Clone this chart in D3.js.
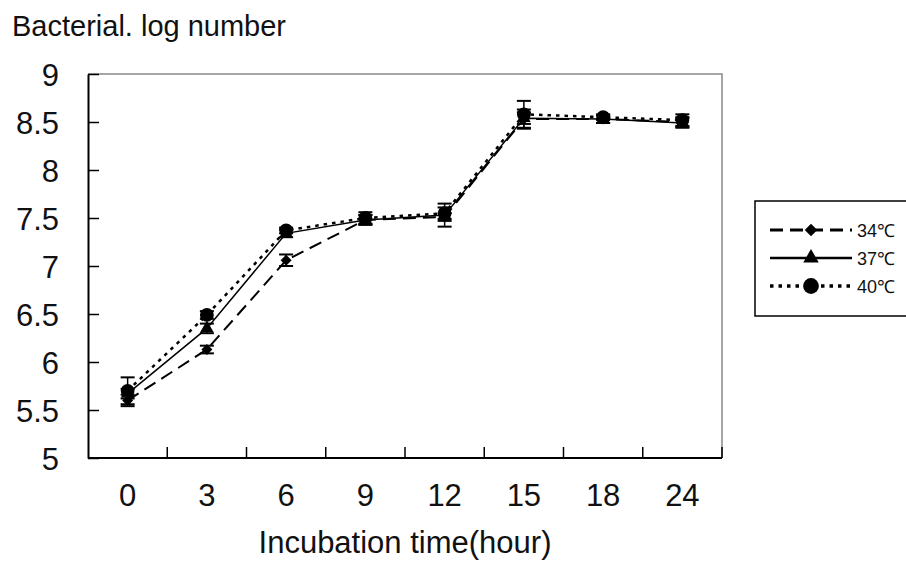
<!DOCTYPE html>
<html>
<head>
<meta charset="utf-8">
<script src="https://cdn.jsdelivr.net/npm/d3@7"></script>
<style>
  body { margin: 0; background: #fff; }
  text { font-family: "Liberation Sans", Arial, sans-serif; fill: #111; }
</style>
</head>
<body>
<div class="plot"></div>
<script>
// data
const hours = ["0", "3", "6", "9", "12", "15", "18", "24"];
const yTicks = [5, 5.5, 6, 6.5, 7, 7.5, 8, 8.5, 9];
const seriesNames = ["34℃", "37℃", "40℃"];
const t34 = [5.60, 6.13, 7.06, 7.48, 7.51, 8.53, 8.53, 8.50];
const t37 = [5.67, 6.35, 7.34, 7.48, 7.53, 8.54, 8.53, 8.49];
const t40 = [5.70, 6.49, 7.37, 7.50, 7.55, 8.58, 8.55, 8.52];
const e34 = [0.06, 0.04, 0.06, 0.05, 0.04, 0.10, 0.04, 0.05];
const e37 = [0.05, 0.05, 0.04, 0.05, 0.12, 0.06, 0.04, 0.05];
const e40 = [0.14, 0.04, 0.03, 0.06, 0.06, 0.14, 0.03, 0.06];

const width = 906, height = 564;
const margin = {top: 74, right: 184, bottom: 106, left: 88};
const w = width - margin.left - margin.right;
const h = height - margin.top - margin.bottom;

const svg = d3.select(".plot")
  .append("svg")
    .attr("width", width)
    .attr("height", height);

const g = svg.append("g")
  .attr("transform", "translate(" + margin.left + "," + margin.top + ")");

const x = d3.scaleBand().domain(hours).range([0, w]);
const y = d3.scaleLinear().domain([5, 9]).range([h, 0]);

// gray frame on top/right
g.append("path")
  .attr("d", `M0,0H${w}V${h}`)
  .attr("fill", "none")
  .attr("stroke", "#888")
  .attr("stroke-width", 1.5);

// y axis, ticks pointing inward
const yAxis = g.append("g")
  .call(d3.axisLeft(y).tickValues(yTicks).tickSizeInner(-11).tickSizeOuter(0).tickPadding(0)
    .tickFormat(d => d));
yAxis.select(".domain").attr("stroke", "#000").attr("stroke-width", 2);
yAxis.selectAll(".tick line").attr("stroke", "#000").attr("stroke-width", 1.5);
yAxis.selectAll(".tick text")
  .attr("x", -29)
  .attr("dy", "0.36em")
  .style("font-size", "31px")
  .style("font-family", "Liberation Sans, Arial, sans-serif")
  .attr("fill", "#111");

// x axis, ticks at category boundaries pointing up
const xAxis = g.append("g")
  .attr("transform", "translate(0," + h + ")");
xAxis.append("line")
  .attr("x1", 0).attr("x2", w)
  .attr("stroke", "#000").attr("stroke-width", 2);
xAxis.selectAll(".xtick")
  .data(hours.slice(1).concat(["end"]))
  .enter().append("line")
  .attr("x1", (d, i) => i < hours.length - 1 ? x(d) : w)
  .attr("x2", (d, i) => i < hours.length - 1 ? x(d) : w)
  .attr("y1", 0).attr("y2", -11)
  .attr("stroke", "#000").attr("stroke-width", 1.5);
xAxis.selectAll(".xlabel")
  .data(hours)
  .enter().append("text")
  .attr("x", d => x(d) + x.bandwidth() / 2)
  .attr("y", 48)
  .attr("text-anchor", "middle")
  .style("font-size", "31px")
  .text(d => d);

// titles
svg.append("text")
  .attr("x", 12).attr("y", 36)
  .style("font-size", "29px")
  .text("Bacterial. log number");
svg.append("text")
  .attr("x", 405).attr("y", 553)
  .attr("text-anchor", "middle")
  .style("font-size", "31px")
  .text("Incubation time(hour)");

const series = [
  {name: seriesNames[0], values: t34, err: e34, dash: "13,7", lw: 2, sym: d3.symbolSquare, rot: 45, size: 60},
  {name: seriesNames[1], values: t37, err: e37, dash: null, lw: 1.5, sym: d3.symbolTriangle, rot: 0, size: 80},
  {name: seriesNames[2], values: t40, err: e40, dash: "3.5,5", lw: 2.5, sym: d3.symbolCircle, rot: 0, size: 150}
];

const cx = (d, i) => x(hours[i]) + x.bandwidth() / 2;

const line = d3.line()
  .x((d, i) => cx(d, i))
  .y(d => y(d));

series.forEach(s => {
  // error bars
  const eb = g.append("g");
  s.values.forEach((v, i) => {
    const px = cx(v, i);
    const e = s.err[i];
    eb.append("line").attr("x1", px).attr("x2", px)
      .attr("y1", y(v - e)).attr("y2", y(v + e))
      .attr("stroke", "#000").attr("stroke-width", 1.5);
    [v - e, v + e].forEach(c => {
      eb.append("line").attr("x1", px - 7).attr("x2", px + 7)
        .attr("y1", y(c)).attr("y2", y(c))
        .attr("stroke", "#000").attr("stroke-width", 2);
    });
  });

  g.append("path")
    .datum(s.values)
    .attr("d", line)
    .attr("fill", "none")
    .attr("stroke", "#000")
    .attr("stroke-width", s.lw)
    .attr("stroke-dasharray", s.dash);

  g.selectAll(null)
    .data(s.values)
    .enter().append("path")
    .attr("d", d3.symbol().type(s.sym).size(s.size))
    .attr("transform", (d, i) => "translate(" + cx(d, i) + "," + y(d) + ") rotate(" + s.rot + ")")
    .attr("fill", "#000");
});

// legend
const legend = svg.append("g")
  .attr("transform", "translate(755,201)");
legend.append("rect")
  .attr("width", 160).attr("height", 115)
  .attr("fill", "#fff")
  .attr("stroke", "#000")
  .attr("stroke-width", 1.5);

const items = legend.selectAll(".item")
  .data(series)
  .enter().append("g")
  .attr("transform", (d, i) => "translate(0," + (29 + i * 28) + ")");
items.append("line")
  .attr("x1", 15).attr("x2", 97)
  .attr("stroke", "#000")
  .attr("stroke-width", d => d.lw + 0.8)
  .attr("stroke-dasharray", d => d.dash);
items.append("path")
  .attr("d", d => d3.symbol().type(d.sym).size(d.size * 1.3)())
  .attr("transform", d => "translate(56,0) rotate(" + d.rot + ")")
  .attr("fill", "#000");
items.append("text")
  .attr("x", 102).attr("y", 7)
  .style("font-size", "18px")
  .text(d => d.name);
</script>
</body>
</html>
